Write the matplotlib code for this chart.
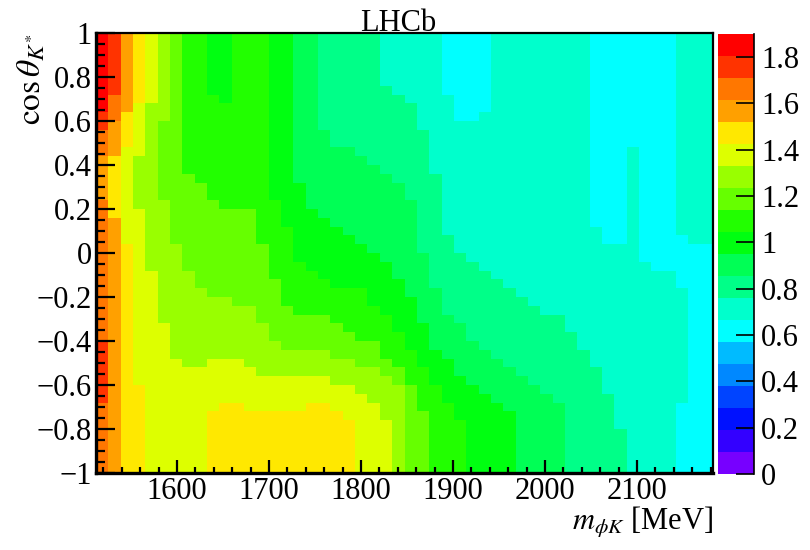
import matplotlib
matplotlib.use("Agg")
import matplotlib.pyplot as plt
from matplotlib.colors import ListedColormap, BoundaryNorm
from matplotlib.ticker import MultipleLocator
import numpy as np

plt.rcParams['font.family'] = ['Liberation Serif', 'DejaVu Serif']
plt.rcParams['mathtext.fontset'] = 'stix'
plt.rcParams['axes.unicode_minus'] = True

# histogram range and binning
m_min, m_max = 1512.0, 2182.6
n_bins = 50
z_max = 1.9

# palette, lowest level first
palette = ["#7700ff", "#3300ff", "#0011ff", "#0044ff", "#0088ff",
           "#00bbff", "#00ffff", "#00ffcc", "#00ff88", "#00ff55",
           "#00ff11", "#22ff00", "#66ff00", "#99ff00", "#ddff00",
           "#ffe800", "#ffa000", "#ff7700", "#ff3300", "#ff0000"]

y_tick_values = [-1, -0.8, -0.6, -0.4, -0.2, 0, 0.2, 0.4, 0.6, 0.8, 1]
y_tick_labels = ["\u22121", "\u22120.8", "\u22120.6", "\u22120.4", "\u22120.2", "0", "0.2", "0.4", "0.6", "0.8", "1"]
z_tick_values = [0, 0.2, 0.4, 0.6, 0.8, 1, 1.2, 1.4, 1.6, 1.8]
z_tick_labels = ["0", "0.2", "0.4", "0.6", "0.8", "1", "1.2", "1.4", "1.6", "1.8"]

# for each m bin, (colour level, first row from the top)
columns = [
    [(19, 0), (18, 9), (17, 11), (16, 14), (17, 19), (18, 35), (17, 42)],
    [(18, 0), (17, 7), (16, 10), (15, 14), (16, 21)],
    [(16, 0), (15, 9), (14, 13), (15, 24)],
    [(15, 0), (14, 8), (13, 14), (14, 20), (15, 40)],
    [(14, 0), (13, 8), (14, 27)],
    [(13, 0), (12, 10), (13, 19), (14, 33)],
    [(12, 0), (13, 24), (14, 37)],
    [(11, 0), (12, 16), (13, 27), (14, 38)],
    [(11, 0), (12, 17), (13, 29), (14, 38)],
    [(10, 0), (11, 7), (12, 19), (13, 30), (14, 37), (15, 43)],
    [(10, 0), (11, 8), (12, 20), (13, 30), (14, 37), (15, 42)],
    [(11, 0), (12, 20), (13, 31), (14, 37), (15, 42)],
    [(11, 0), (12, 20), (13, 31), (14, 38), (15, 43)],
    [(11, 0), (12, 24), (13, 33), (14, 39), (15, 43)],
    [(10, 0), (11, 19), (12, 28), (13, 35), (14, 39), (15, 43)],
    [(10, 0), (11, 22), (12, 31), (13, 36), (14, 39), (15, 43)],
    [(9, 0), (10, 17), (11, 26), (12, 32), (13, 36), (14, 39), (15, 43)],
    [(9, 0), (10, 20), (11, 27), (12, 32), (13, 36), (14, 39), (15, 42)],
    [(8, 0), (9, 11), (10, 21), (11, 28), (12, 32), (13, 36), (14, 39), (15, 42)],
    [(8, 0), (9, 13), (10, 22), (11, 29), (12, 33), (13, 37), (14, 40), (15, 43)],
    [(8, 0), (9, 13), (10, 23), (11, 29), (12, 34), (13, 37), (14, 40), (15, 44)],
    [(8, 0), (9, 14), (10, 24), (11, 29), (12, 35), (13, 38), (14, 41)],
    [(8, 0), (9, 15), (10, 25), (11, 31), (12, 35), (13, 38), (14, 42)],
    [(7, 0), (8, 6), (9, 16), (10, 26), (11, 32), (12, 37), (13, 39), (14, 44)],
    [(7, 0), (8, 7), (9, 17), (10, 28), (11, 34), (12, 38), (13, 40)],
    [(7, 0), (8, 8), (9, 19), (10, 30), (11, 36), (12, 40)],
    [(7, 0), (8, 11), (9, 25), (10, 33), (11, 38), (12, 43)],
    [(7, 0), (8, 16), (9, 29), (10, 36), (11, 40)],
    [(6, 0), (7, 7), (8, 23), (9, 32), (10, 37), (11, 42)],
    [(6, 0), (7, 10), (8, 25), (9, 33), (10, 39), (11, 44)],
    [(6, 0), (7, 10), (8, 26), (9, 35), (10, 40)],
    [(6, 0), (7, 9), (8, 27), (9, 36), (10, 41)],
    [(7, 0), (8, 28), (9, 37), (10, 42)],
    [(7, 0), (8, 29), (9, 38), (10, 43)],
    [(7, 0), (8, 30), (9, 39)],
    [(7, 0), (8, 31), (9, 40)],
    [(7, 0), (8, 32), (9, 41)],
    [(7, 0), (8, 32), (9, 42)],
    [(7, 0), (8, 34)],
    [(7, 0), (8, 36)],
    [(6, 0), (7, 22), (8, 38)],
    [(6, 0), (7, 24), (8, 41)],
    [(6, 0), (7, 24), (8, 45)],
    [(6, 0), (7, 13)],
    [(6, 0), (7, 26)],
    [(6, 0), (7, 27)],
    [(6, 0), (7, 27)],
    [(7, 0), (6, 23), (7, 29), (6, 42)],
    [(7, 0), (6, 24)],
    [(7, 0), (6, 24)],
]

step = z_max / len(palette)
z = np.zeros((n_bins, n_bins))
for i, col in enumerate(columns):
    for level, first in col:
        z[first:, i] = (level + 0.5) * step

x_edges = np.linspace(m_min, m_max, n_bins + 1)
y_edges = np.linspace(1, -1, n_bins + 1)

W, H = 810, 550
fig = plt.figure(figsize=(W / 100, H / 100), dpi=100)
ax = fig.add_axes([96 / W, 1 - 473 / H, 617 / W, 440 / H])
cax = fig.add_axes([718 / W, 1 - 474 / H, 36 / W, 440 / H])

cmap = ListedColormap(palette)
norm = BoundaryNorm(np.arange(len(palette) + 1) * step, cmap.N)
mesh = ax.pcolormesh(x_edges, y_edges, z, cmap=cmap, norm=norm, linewidth=0, rasterized=True)
ax.set_xlim(m_min, m_max)
ax.set_ylim(-1, 1)

ax.xaxis.set_major_locator(MultipleLocator(100))
ax.xaxis.set_minor_locator(MultipleLocator(20))
ax.yaxis.set_minor_locator(MultipleLocator(0.05))
ax.tick_params(axis='x', which='major', direction='in', length=9.5, width=1.6, labelsize=22, pad=3)
ax.tick_params(axis='x', which='minor', direction='in', length=4.5, width=1.6)
ax.tick_params(axis='y', which='major', direction='in', length=13.5, width=1.6, labelsize=22, pad=3)
ax.tick_params(axis='y', which='minor', direction='in', length=6.8, width=1.6)
ax.set_yticks(y_tick_values)
ax.set_yticklabels(y_tick_labels)
for s in ['left', 'bottom']:
    ax.spines[s].set_linewidth(2.4)
for s in ['top', 'right']:
    ax.spines[s].set_linewidth(1.6)

cb = fig.colorbar(mesh, cax=cax, spacing='proportional')
cb.set_ticks(z_tick_values)
cb.set_ticklabels(z_tick_labels)
cb.minorticks_off()
cb.outline.set_visible(False)
cax.spines['right'].set_visible(True)
cax.spines['right'].set_linewidth(1.2)
cax.tick_params(axis='y', which='major', direction='in', length=13, width=1.2, labelsize=22, pad=5, right=True)

fig.text(398.5 / W, 1 - 31 / H, "LHCb", fontsize=22, ha='center', va='baseline')
fig.text(713 / W, 1 - 530 / H, r"$m_{\phi K}$ [MeV]", fontsize=22, ha='right', va='baseline')
fig.text(32 / W, 1 - 33 / H, r"$\cos\theta_{K^{*}}$", fontsize=24, rotation=90, ha='center', va='top')

fig.savefig("out.png", dpi=100)
